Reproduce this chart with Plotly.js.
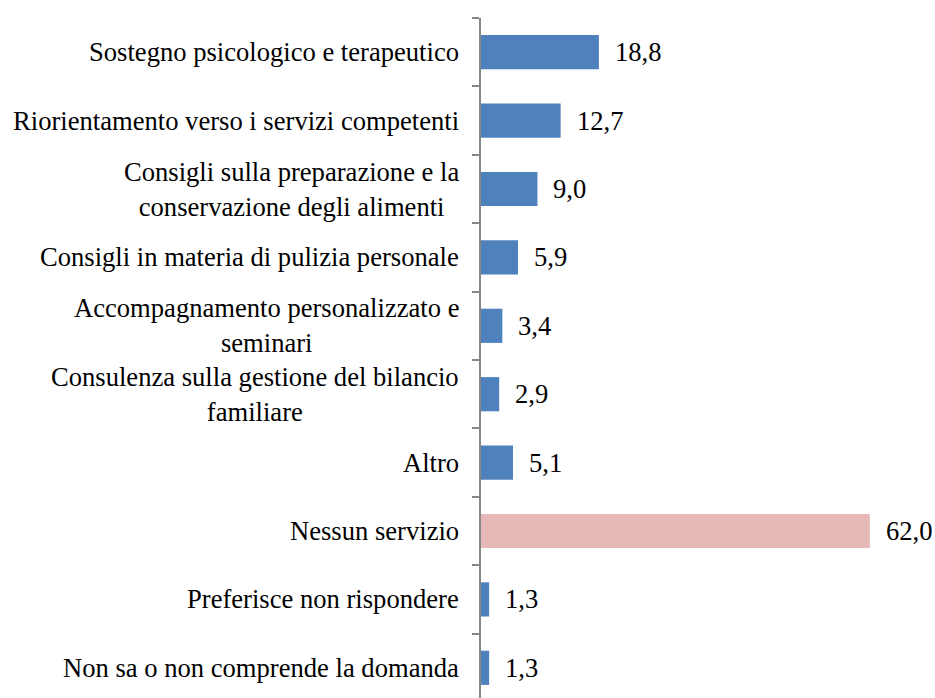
<!DOCTYPE html>
<html><head><meta charset="utf-8">
<script src="https://cdn.plot.ly/plotly-3.0.1.min.js"></script>
<style>html,body{margin:0;padding:0;overflow:hidden;background:#fff}</style>
</head><body><div id="chart" style="width:935px;height:702px"></div>
<script>
const categories = [
  "Sostegno psicologico e terapeutico",
  "Riorientamento verso i servizi competenti",
  "Consigli sulla preparazione e la<br>conservazione degli alimenti",
  "Consigli in materia di pulizia personale",
  "Accompagnamento personalizzato e<br>seminari",
  "Consulenza sulla gestione del bilancio<br>familiare",
  "Altro",
  "Nessun servizio",
  "Preferisce non rispondere",
  "Non sa o non comprende la domanda"
];
const values = [18.8, 12.7, 9.0, 5.9, 3.4, 2.9, 5.1, 62.0, 1.3, 1.3];
const valueLabels = ["18,8","12,7","9,0","5,9","3,4","2,9","5,1","62,0","1,3","1,3"];
const highlight = "Nessun servizio";

const colors = categories.map(c => c === highlight ? "#E6B9B8" : "#4F81BD");
const mkFont = () => ({family: "Liberation Serif", size: 26.6, color: "#000000"});

const annotations = [];
categories.forEach((c, i) => {
  annotations.push({x: values[i], y: c, xref: "x", yref: "y", text: valueLabels[i],
    showarrow: false, xanchor: "left", xshift: 14, font: mkFont()});
  annotations.push({x: 0, y: c, xref: "paper", yref: "y", text: c, showarrow: false,
    xanchor: "right", xshift: -20, align: "center", font: mkFont()});
});

Plotly.newPlot("chart", [{
  type: "bar", orientation: "h", x: values, y: categories,
  marker: {color: colors}, hoverinfo: "none"
}], {
  width: 935, height: 702,
  margin: {l: 481, r: 0, t: 18, b: 0},
  bargap: 0.5,
  showlegend: false,
  font: mkFont(),
  paper_bgcolor: "#fff", plot_bgcolor: "#fff",
  xaxis: {range: [0, 72.4], visible: false, fixedrange: true},
  yaxis: {autorange: "reversed", showticklabels: false, showline: true, fixedrange: true,
    linecolor: "#868686", linewidth: 1.5, ticks: "outside", tickson: "boundaries",
    ticklen: 7, tickcolor: "#868686", tickwidth: 1.5, showgrid: false, zeroline: false},
  annotations: annotations
}, {displayModeBar: false});
</script></body></html>
